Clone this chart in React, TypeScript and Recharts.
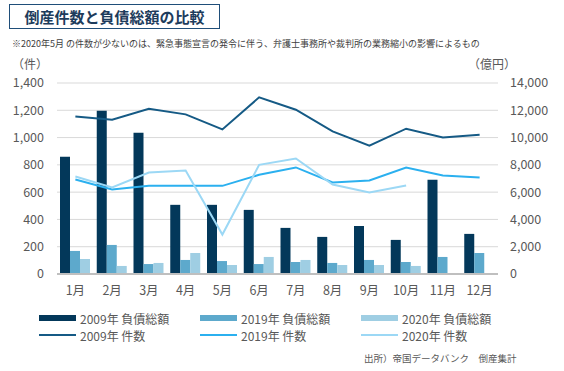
import React from 'react';
import { ComposedChart, Bar, Line, XAxis, YAxis, CartesianGrid } from 'recharts';

// months
const months = ['1月', '2月', '3月', '4月', '5月', '6月', '7月', '8月', '9月', '10月', '11月', '12月'];

// debt totals (億円)
const debt2009 = [8600, 11970, 10350, 5070, 5070, 4700, 3380, 2720, 3520, 2500, 6900, 2940];
const debt2019 = [1690, 2130, 730, 1030, 950, 730, 880, 810, 1030, 880, 1250, 1540];
const debt2020 = [1100, 590, 810, 1540, 660, 1250, 1030, 660, 660, 590, null, null];

// bankruptcy counts (件)
const count2009 = [1155, 1131, 1211, 1170, 1060, 1295, 1204, 1045, 940, 1065, 1001, 1021];
const count2019 = [693, 619, 646, 646, 646, 727, 781, 671, 685, 781, 722, 707];
const count2020 = [715, 634, 744, 759, 289, 800, 847, 656, 597, 649, null, null];

const leftTicks = [0, 200, 400, 600, 800, 1000, 1200, 1400];
const rightTicks = [0, 2000, 4000, 6000, 8000, 10000, 12000, 14000];

const data = months.map((m, i) => ({
  month: m,
  d2009: debt2009[i],
  d2019: debt2019[i],
  d2020: debt2020[i],
  c2009: count2009[i],
  c2019: count2019[i],
  c2020: count2020[i],
}));

const legendItems = [
  { label: '2009年 負債総額', color: '#03385a', bar: true },
  { label: '2019年 負債総額', color: '#5da9cc', bar: true },
  { label: '2020年 負債総額', color: '#9fcee3', bar: true },
  { label: '2009年 件数', color: '#155a85', bar: false },
  { label: '2019年 件数', color: '#2bb0ef', bar: false },
  { label: '2020年 件数', color: '#9cd8f5', bar: false },
];

const font = '"Noto Sans CJK JP", "Noto Sans", sans-serif';
const tickStyle = { fontSize: 12.5, fill: '#595959', fontFamily: font };

export default function App() {
  return (
    <div style={{ position: 'absolute', left: 0, top: 0, width: 564, height: 371, background: '#fff', fontFamily: font, overflow: 'hidden' }}>
      <div style={{ position: 'absolute', left: 9, top: 4, width: 209, height: 23, border: '1.5px solid #1f4e79', color: '#1d3c5c', fontWeight: 700, fontSize: 15, lineHeight: '23px', textAlign: 'center' }}>
        倒産件数と負債総額の比較
      </div>
      <div style={{ position: 'absolute', left: 12, top: 38, fontSize: 9, lineHeight: '12px', color: '#404040', whiteSpace: 'nowrap' }}>
        ※2020年5月 の件数が少ないのは、緊急事態宣言の発令に伴う、弁護士事務所や裁判所の業務縮小の影響によるもの
      </div>
      <div style={{ position: 'absolute', left: 12, top: 57, fontSize: 12, lineHeight: '13px', color: '#595959' }}>（件）</div>
      <div style={{ position: 'absolute', left: 468, top: 57, fontSize: 12, lineHeight: '13px', color: '#595959' }}>（億円）</div>

      <ComposedChart width={564} height={300} data={data} margin={{ top: 83, right: 0, bottom: 0, left: 0 }} barGap={0} style={{ position: 'absolute', left: 0, top: 0 }}>
        <CartesianGrid vertical={false} stroke="#d9d9d9" yAxisId="left" />
        <XAxis dataKey="month" height={26} tickLine={false} tickSize={0} tickMargin={12} axisLine={{ stroke: '#bfbfbf', strokeWidth: 2 }} tick={tickStyle} interval={0} />
        <YAxis yAxisId="left" width={57} domain={[0, 1400]} ticks={leftTicks} axisLine={false} tickLine={false} tickSize={0} tickMargin={13} tick={tickStyle} tickFormatter={(v: number) => v.toLocaleString('en-US')} />
        <YAxis yAxisId="right" orientation="right" width={66} domain={[0, 14000]} ticks={rightTicks} axisLine={false} tickLine={false} tickSize={0} tickMargin={12} tick={{ ...tickStyle, textAnchor: 'start' }} tickFormatter={(v: number) => v.toLocaleString('en-US')} />
        <Bar yAxisId="right" dataKey="d2009" fill="#03385a" barSize={10} isAnimationActive={false} />
        <Bar yAxisId="right" dataKey="d2019" fill="#5da9cc" barSize={10} isAnimationActive={false} />
        <Bar yAxisId="right" dataKey="d2020" fill="#9fcee3" barSize={10} isAnimationActive={false} />
        <Line yAxisId="left" dataKey="c2009" stroke="#155a85" strokeWidth={2} dot={false} isAnimationActive={false} />
        <Line yAxisId="left" dataKey="c2019" stroke="#2bb0ef" strokeWidth={2} dot={false} isAnimationActive={false} />
        <Line yAxisId="left" dataKey="c2020" stroke="#9cd8f5" strokeWidth={2} dot={false} isAnimationActive={false} />
      </ComposedChart>

      {legendItems.map((it, i) => {
        const col = i % 3;
        const row = Math.floor(i / 3);
        const left = 39 + col * 161;
        const cy = 318 + row * 17;
        return (
          <div key={it.label} style={{ position: 'absolute', left, top: cy - 9, height: 18, display: 'flex', alignItems: 'center', whiteSpace: 'nowrap' }}>
            <div style={{ width: 37, height: it.bar ? 6 : 2, background: it.color, marginRight: 4 }} />
            <span style={{ fontSize: 12, color: '#595959' }}>{it.label}</span>
          </div>
        );
      })}

      <div style={{ position: 'absolute', left: 364, top: 352, fontSize: 9.5, lineHeight: '12px', color: '#595959', whiteSpace: 'nowrap' }}>
        出所）帝国データバンク　倒産集計
      </div>
    </div>
  );
}
